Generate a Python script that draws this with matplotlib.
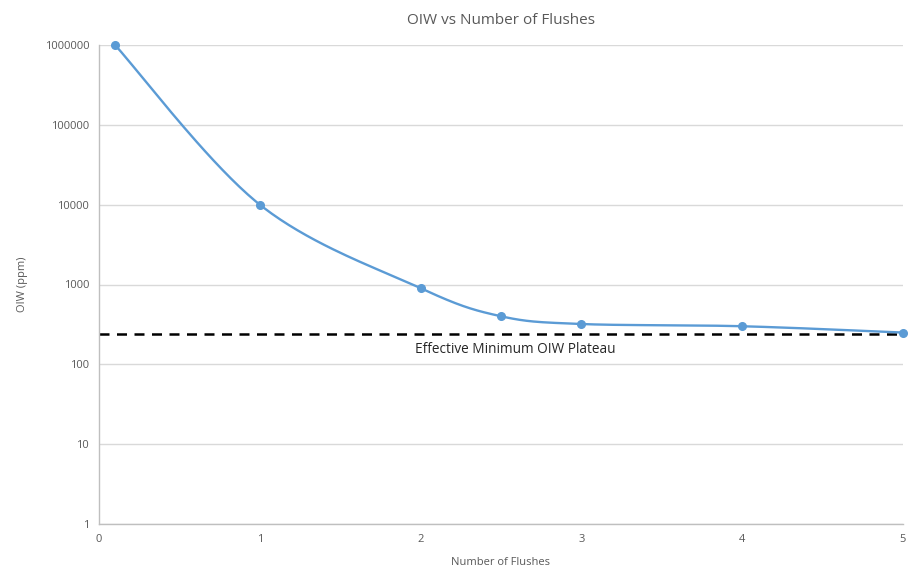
import numpy as np
import matplotlib
matplotlib.use("Agg")
import matplotlib.pyplot as plt
from matplotlib.ticker import FixedLocator, FuncFormatter

# Data
flushes = [0.1, 1, 2, 2.5, 3, 4, 5]
oiw_ppm = [1000000, 10000, 900, 400, 320, 300, 250]
plateau = 240
x_ticks = [0, 1, 2, 3, 4, 5]
y_ticks = [1, 10, 100, 1000, 10000, 100000, 1000000]

plt.rcParams['font.family'] = ['Open Sans', 'DejaVu Sans']

fig = plt.figure(figsize=(9.12, 5.69), dpi=100)
ax = fig.add_axes([99/912, 1 - 524/569, (903-99)/912, (524-45)/569])
ax.set_yscale('log')
ax.set_xlim(0, 5)
ax.set_ylim(1, 1000000)

# Excel-like smooth curve (Catmull-Rom in display-scaled space)
sx, sy = 160.8, 79.8
P = np.column_stack([np.array(flushes) * sx, np.log10(oiw_ppm) * sy])
curve = []
n = len(P)
for i in range(n - 1):
    p0 = P[i - 1] if i > 0 else P[i]
    p1 = P[i]
    p2 = P[i + 1]
    p3 = P[i + 2] if i + 2 < n else P[i + 1]
    c1 = p1 + (p2 - p0) / 6
    c2 = p2 - (p3 - p1) / 6
    t = np.linspace(0, 1, 40)[:, None]
    seg = (1-t)**3*p1 + 3*(1-t)**2*t*c1 + 3*(1-t)*t**2*c2 + t**3*p2
    curve.append(seg if i == 0 else seg[1:])
curve = np.vstack(curve)
cx = curve[:, 0] / sx
cy = 10 ** (curve[:, 1] / sy)

color = '#5B9BD5'
ax.plot(cx, cy, color=color, lw=1.7, zorder=3, solid_capstyle='round')
ax.plot(flushes, oiw_ppm, 'o', color=color, ms=5.5, zorder=4, clip_on=False)

ax.axhline(plateau, color='black', lw=1.8, ls=(0, (4, 3)), zorder=2)
ax.text(1.965, 155, 'Effective Minimum OIW Plateau', fontsize=9.8, color='#262626',
        va='center', ha='left')

ax.yaxis.set_major_locator(FixedLocator(y_ticks))
ax.yaxis.set_minor_locator(FixedLocator([]))
ax.yaxis.set_major_formatter(FuncFormatter(lambda v, p: f"{int(round(v))}"))
ax.set_xticks(x_ticks)
ax.tick_params(axis='both', length=0, labelsize=8, colors='#595959', pad=7)
ax.grid(axis='y', color='#D9D9D9', lw=1)
ax.set_axisbelow(True)
for s in ['top', 'right']:
    ax.spines[s].set_visible(False)
for s in ['left', 'bottom']:
    ax.spines[s].set_color('#BFBFBF')
    ax.spines[s].set_linewidth(1)

ax.set_title('OIW vs Number of Flushes', fontsize=11, color='#595959', pad=15)
ax.set_xlabel('Number of Flushes', fontsize=8, color='#595959', labelpad=9)
ax.set_ylabel('OIW (ppm)', fontsize=8, color='#595959', labelpad=12)

fig.savefig('out.png', dpi=100)
